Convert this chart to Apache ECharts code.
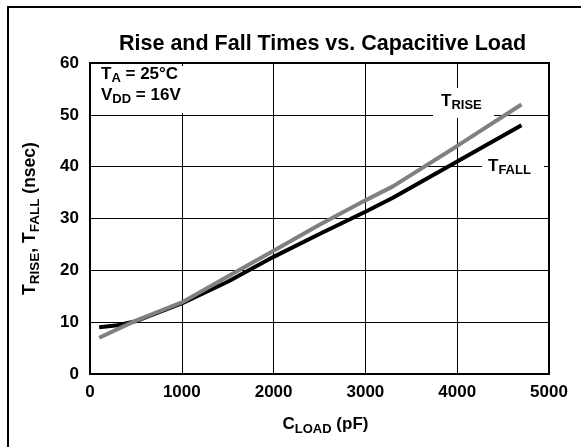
<!DOCTYPE html>
<html>
<head>
<meta charset="utf-8">
<script src="https://cdn.jsdelivr.net/npm/echarts@6/dist/echarts.min.js"></script>
<style>html,body{margin:0;padding:0;background:#fff}#c{width:581px;height:447px}</style>
</head>
<body>
<div id="c"></div>
<script>
// Data
var fallLoad = [100, 300, 500, 1000, 1500, 2000, 2500, 3000, 3300, 4000, 4700];
var fallTime = [9, 9.4, 10.2, 13.6, 17.8, 22.6, 27, 31.3, 34, 41, 48];
var riseLoad = [100, 500, 1000, 1500, 2000, 2500, 3000, 3300, 4000, 4700];
var riseTime = [7, 10.3, 13.8, 18.8, 23.8, 28.8, 33.5, 36.2, 44, 52];
var xTicks = [0, 1000, 2000, 3000, 4000, 5000];
var yTicks = [0, 10, 20, 30, 40, 50, 60];

function pairs(xs, ys) { return xs.map(function (x, i) { return [x, ys[i]]; }); }

var FONT = '"Liberation Sans", Arial, sans-serif';
function rich(main, sub, lh) {
  return {
    m: { fontSize: main, fontWeight: 'bold', fontFamily: FONT, color: '#000', fill: '#000', lineHeight: lh },
    s: { fontSize: sub, fontWeight: 'bold', fontFamily: FONT, color: '#000', fill: '#000', lineHeight: sub, verticalAlign: 'bottom' }
  };
}
var plain = function (v) { return String(v); };

var chart = echarts.init(document.getElementById('c'));
chart.setOption({
  animation: false,
  backgroundColor: '#fff',
  title: {
    text: 'Rise and Fall Times vs. Capacitive Load',
    left: 114, top: 28,
    textStyle: { fontSize: 21.5, fontWeight: 'bold', fontFamily: FONT, color: '#000' }
  },
  grid: { left: 90, top: 63, right: 32, bottom: 73, show: true, borderColor: '#000', borderWidth: 2, containLabel: false },
  xAxis: {
    type: 'value', min: xTicks[0], max: xTicks[xTicks.length - 1], interval: 1000,
    axisLine: { show: true, lineStyle: { color: '#000', width: 2 } },
    axisTick: { show: false },
    splitLine: { show: true, lineStyle: { color: '#000', width: 1 } },
    axisLabel: { margin: 10, fontSize: 17, fontWeight: 'bold', fontFamily: FONT, color: '#000', formatter: plain },
    name: '{m|C}{s|LOAD}{m| (pF)}',
    nameLocation: 'middle', nameGap: 38,
    nameTextStyle: { rich: rich(17, 13, 24), padding: [0, 0, 0, 12] }
  },
  yAxis: {
    type: 'value', min: yTicks[0], max: yTicks[yTicks.length - 1], interval: 10,
    axisLine: { show: true, lineStyle: { color: '#000', width: 2 } },
    axisTick: { show: false },
    splitLine: { show: true, lineStyle: { color: '#000', width: 1 } },
    axisLabel: { margin: 11, fontSize: 17, fontWeight: 'bold', fontFamily: FONT, color: '#000', formatter: plain },
    name: '{m|T}{s|RISE}{m|, T}{s|FALL}{m| (nsec)}',
    nameLocation: 'middle', nameGap: 48, nameRotate: 90,
    nameTextStyle: { rich: rich(17.5, 13.5, 24) }
  },
  graphic: [
    { type: 'line', shape: { x1: 8, y1: 6, x2: 8, y2: 447 }, style: { stroke: '#000', lineWidth: 2 } },
    { type: 'line', shape: { x1: 7, y1: 7, x2: 581, y2: 7 }, style: { stroke: '#000', lineWidth: 2 } },
    { type: 'rect', z: 10, shape: { x: 92, y: 66, width: 95, height: 47 }, style: { fill: '#fff' } },
    { type: 'text', z: 11, left: 101, top: 66,
      style: { text: '{m|T}{s|A}{m| = 25°C}\n{m|V}{s|DD}{m| = 16V}', rich: rich(17, 13, 21) } },
    { type: 'rect', z: 10, shape: { x: 433, y: 88, width: 61, height: 30 }, style: { fill: '#fff' } },
    { type: 'text', z: 11, left: 441, top: 93,
      style: { text: '{m|T}{s|RISE}', rich: rich(17, 13, 21) } },
    { type: 'rect', z: 10, shape: { x: 482, y: 152, width: 62, height: 30 }, style: { fill: '#fff' } },
    { type: 'text', z: 11, left: 488, top: 158,
      style: { text: '{m|T}{s|FALL}', rich: rich(17, 13, 21) } }
  ],
  series: [
    { name: 'TFALL', type: 'line', data: pairs(fallLoad, fallTime), showSymbol: false, smooth: false,
      lineStyle: { color: '#000', width: 4 }, z: 3 },
    { name: 'TRISE', type: 'line', data: pairs(riseLoad, riseTime), showSymbol: false, smooth: false,
      lineStyle: { color: '#808080', width: 4 }, z: 4 }
  ]
});
</script>
</body>
</html>
